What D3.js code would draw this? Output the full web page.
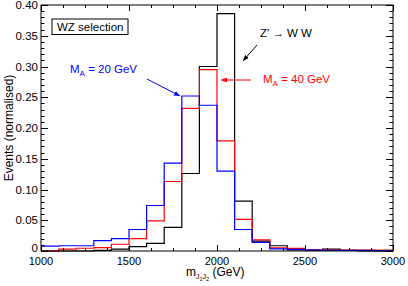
<!DOCTYPE html>
<html><head><meta charset="utf-8">
<script src="https://cdn.jsdelivr.net/npm/d3@7"></script>
<style>
html,body{margin:0;padding:0;background:#fff;}
svg{display:block;font-family:"Liberation Sans",Arial,Helvetica,sans-serif;}
</style></head>
<body>
<svg id="chart" width="408" height="286"></svg>
<script>
// Bin lower edges (GeV), 100 GeV wide
const binEdges = [1000,1100,1200,1300,1400,1500,1600,1700,1800,1900,2000,2100,2200,2300,2400,2500,2600,2700,2800,2900,3000];
const blueMA20 = [0.008,0.0085,0.0085,0.017,0.020,0.035,0.074,0.143,0.252,0.237,0.130,0.035,0.014,0.0035,0.0025,0.0015,0.0012,0.001,0.001,0.0005];
const redMA40  = [0,0.003,0.0045,0.0055,0.011,0.020,0.049,0.113,0.232,0.295,0.179,0.0515,0.018,0.005,0.0042,0.002,0.0015,0.0015,0.0015,0.0015];
const blackZp  = [0,0,0,0.001,0.003,0.007,0.0125,0.0385,0.126,0.300,0.386,0.081,0.016,0.0085,0.0016,0.0015,0.003,0.001,0,0];
const xMajorTicks = [1000,1500,2000,2500,3000];
const yMajorTicks = [0,0.05,0.10,0.15,0.20,0.25,0.30,0.35,0.40];
const yTickLabels = ["0","0.05","0.10","0.15","0.20","0.25","0.30","0.35","0.40"];

const svg = d3.select("#chart");
const L = 41, R = 393, T = 5, B = 251;
const x = d3.scaleLinear().domain([1000,3000]).range([L,R]);
const y = d3.scaleLinear().domain([0,0.40]).range([B,T]);

// Histograms
function histPts(vals){
  const pts = vals.map((v,i)=>[binEdges[i], v]);
  pts.push([binEdges[binEdges.length-1], vals[vals.length-1]]);
  return pts;
}
const line = d3.line().x(d=>x(d[0])).y(d=>y(d[1])).curve(d3.curveStepAfter);
const series = [
  {vals: blackZp, color:"#000000"},
  {vals: redMA40, color:"#ff0000"},
  {vals: blueMA20, color:"#0000ff"}
];
series.forEach(s=>{
  svg.append("path").attr("d", line(histPts(s.vals)))
    .attr("fill","none").attr("stroke", s.color).attr("stroke-width",1.2);
});

// Frame
svg.append("rect").attr("x",L).attr("y",T).attr("width",R-L).attr("height",B-T)
  .attr("fill","none").attr("stroke","#000").attr("stroke-width",1);

// X ticks (major 500, minor 125) bottom + top, inward
const xMinor = d3.range(1000, 3000.1, 125);
const tickG = svg.append("g").attr("stroke","#000").attr("stroke-width",1);
xMinor.forEach(v=>{
  const major = xMajorTicks.includes(v);
  const len = major ? 6 : 3;
  const px = Math.round(x(v))+0.5;
  tickG.append("line").attr("x1",px).attr("x2",px).attr("y1",B).attr("y2",B-len);
  tickG.append("line").attr("x1",px).attr("x2",px).attr("y1",T).attr("y2",T+len);
});
// Y ticks (major 0.05, minor 0.01) left + right, inward
const yMinor = d3.range(0, 41).map(i=>i/100);
yMinor.forEach((v,i)=>{
  const major = i % 5 === 0;
  const len = major ? 7 : 3.5;
  const py = Math.round(y(v))+0.5;
  tickG.append("line").attr("x1",L).attr("x2",L+len).attr("y1",py).attr("y2",py);
  tickG.append("line").attr("x1",R).attr("x2",R-len).attr("y1",py).attr("y2",py);
});

// Tick labels
svg.append("g").selectAll("text").data(xMajorTicks).join("text")
  .attr("x",d=>x(d)).attr("y",B+13.5).attr("text-anchor","middle")
  .attr("font-size",11).attr("fill","#000").text(d=>d);
svg.append("g").selectAll("text").data(yMajorTicks).join("text")
  .attr("x",L-3).attr("y",d=>d===0 ? y(d)+1 : y(d)+4).attr("text-anchor","end")
  .attr("font-size",11.5).attr("fill","#000").text((d,i)=>yTickLabels[i]);

// Axis titles
svg.append("text").attr("transform",`translate(12.5,${(T+B)/2}) rotate(-90)`)
  .attr("text-anchor","middle").attr("font-size",12).attr("fill","#000")
  .text("Events (normalised)");
const xt = svg.append("text").attr("x",186).attr("y",276).attr("font-size",12).attr("fill","#000");
xt.append("tspan").text("m");
xt.append("tspan").attr("font-size",7).attr("dy",3).text("J");
xt.append("tspan").attr("font-size",5.5).attr("dy",1.5).text("1");
xt.append("tspan").attr("font-size",7).attr("dy",-1.5).text("J");
xt.append("tspan").attr("font-size",5.5).attr("dy",1.5).text("2");
xt.append("tspan").attr("dy",-4.5).text(" (GeV)");

// WZ selection box
svg.append("rect").attr("x",52).attr("y",19).attr("width",76).attr("height",15.5)
  .attr("fill","#fff").attr("stroke","#000").attr("stroke-width",1);
svg.append("text").attr("x",57).attr("y",31).attr("font-size",11.5).attr("fill","#000").text("WZ selection");

// Labels with subscripts
function massLabel(xp, yp, color, rest){
  const t = svg.append("text").attr("x",xp).attr("y",yp).attr("font-size",11.5).attr("fill",color);
  t.append("tspan").text("M");
  t.append("tspan").attr("font-size",8).attr("dy",3).text("A");
  t.append("tspan").attr("dy",-3).text(rest);
}
massLabel(70, 73, "#0000ff", " = 20 GeV");
massLabel(263, 82.5, "#ff0000", " = 40 GeV");
svg.append("text").attr("x",260).attr("y",37).attr("font-size",11.5).attr("fill","#000").text("Z′ → W W");

// Arrows
const defs = svg.append("defs");
[["b","#0000ff"],["r","#ff0000"],["k","#000000"]].forEach(([id,c])=>{
  defs.append("marker").attr("id","ah"+id).attr("viewBox","0 0 10 10")
    .attr("refX",10).attr("refY",5).attr("markerWidth",6).attr("markerHeight",6)
    .attr("markerUnits","userSpaceOnUse").attr("orient","auto")
    .append("path").attr("d","M0,1 L10,5 L0,9 Z").attr("fill",c);
});
svg.append("line").attr("x1",147).attr("y1",79).attr("x2",180).attr("y2",96)
  .attr("stroke","#0000ff").attr("stroke-width",1).attr("marker-end","url(#ahb)");
svg.append("line").attr("x1",251).attr("y1",80).attr("x2",221).attr("y2",80)
  .attr("stroke","#ff0000").attr("stroke-width",1).attr("marker-end","url(#ahr)");
svg.append("line").attr("x1",257).attr("y1",45).attr("x2",243).attr("y2",61)
  .attr("stroke","#000").attr("stroke-width",1).attr("marker-end","url(#ahk)");
</script>
</body></html>
